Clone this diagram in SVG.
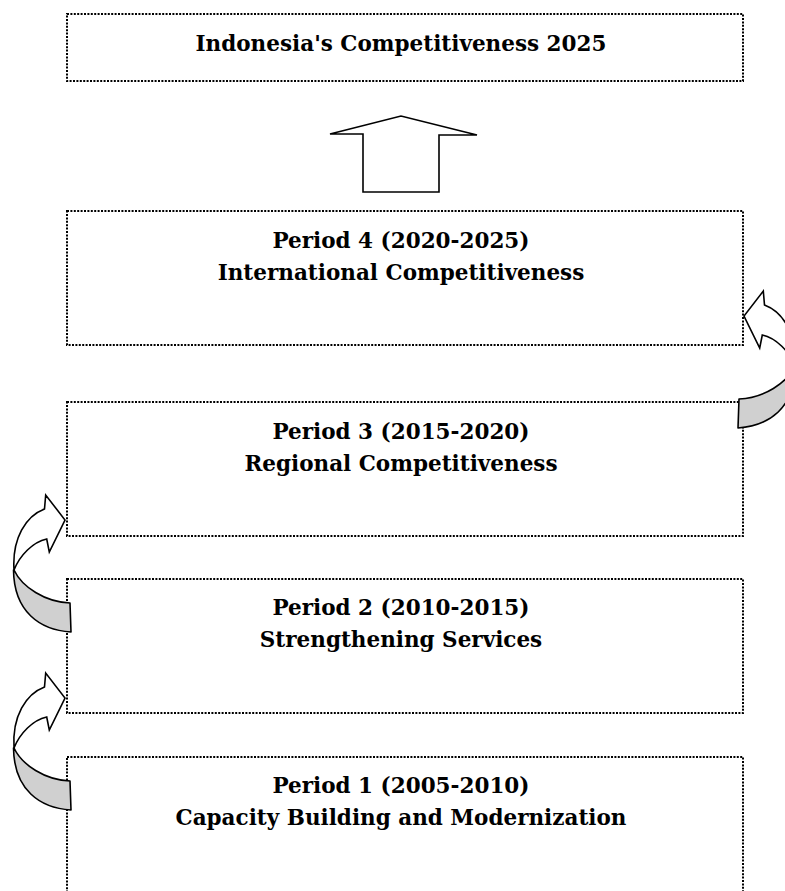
<svg xmlns="http://www.w3.org/2000/svg" xmlns:xlink="http://www.w3.org/1999/xlink" width="785" height="891" viewBox="0 0 785 891">
<style>
.box{fill:#ffffff;stroke:#000000;stroke-width:2;stroke-dasharray:2 1.4}
.t{font-family:"DejaVu Serif","Liberation Serif",serif;font-weight:bold;font-size:21.5px;fill:#000000;text-anchor:middle}
.ar{fill:#ffffff;stroke:#000000;stroke-width:1.6;stroke-linejoin:miter}
.back{fill:#d0d0d0;stroke:#000000;stroke-width:1.6;stroke-linejoin:round}
</style>
<defs>
<g id="curv">
<path class="back" d="M14,748 C22,765 45,780 70,781 L71,810 C40,808 14,790 13.5,748 Z"/>
<path class="ar" d="M44.5,687 C26,694 12,716 14,748 C20,733 33,720 46.7,717 L49.3,730 L65,698 L45.7,673 Z"/>
</g>
</defs>
<rect width="785" height="891" fill="#ffffff"/>
<g id="n0">
<rect class="box" x="67" y="14" width="676" height="67"/>
<text class="t" x="401" y="51">Indonesia's Competitiveness 2025</text>
</g>
<g id="n4">
<rect class="box" x="67" y="211" width="676" height="134"/>
<text class="t" x="401" y="248">Period 4 (2020-2025)</text>
<text class="t" x="401" y="280">International Competitiveness</text>
</g>
<g id="n3">
<rect class="box" x="67" y="402" width="676" height="134"/>
<text class="t" x="401" y="439">Period 3 (2015-2020)</text>
<text class="t" x="401" y="471">Regional Competitiveness</text>
</g>
<g id="n2">
<rect class="box" x="67" y="579" width="676" height="134"/>
<text class="t" x="401" y="615">Period 2 (2010-2015)</text>
<text class="t" x="401" y="647">Strengthening Services</text>
</g>
<g id="n1">
<rect class="box" x="67" y="757" width="676" height="150"/>
<text class="t" x="401" y="793">Period 1 (2005-2010)</text>
<text class="t" x="401" y="825">Capacity Building and Modernization</text>
</g>
<g id="connectors">
<path class="ar" d="M330,134 L401,116 L477,135 L439,135 L439,192 L363,192 L363,134 Z"/>
<use xlink:href="#curv"/>
<use xlink:href="#curv" transform="translate(0,-178)"/>
<use xlink:href="#curv" transform="translate(809,-382) scale(-1,1)"/>
</g>
</svg>
